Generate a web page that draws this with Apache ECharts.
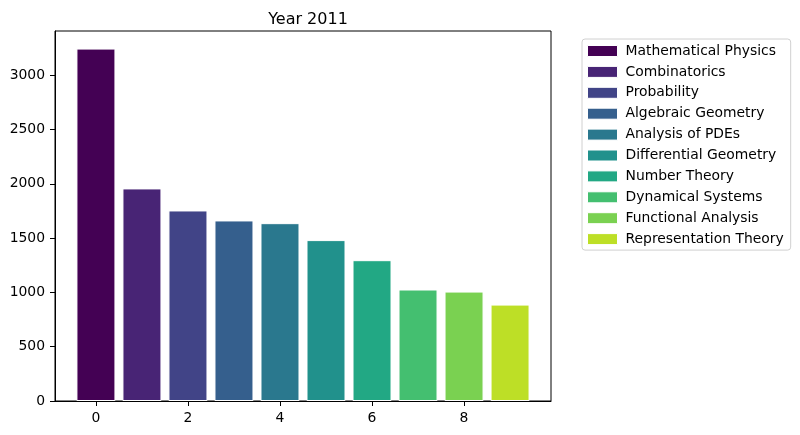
<!DOCTYPE html>
<html>
<head>
<meta charset="utf-8">
<script src="https://cdn.jsdelivr.net/npm/echarts@6/dist/echarts.min.js"></script>
<style>html,body{margin:0;padding:0;background:#fff}#c{width:800px;height:435px}</style>
</head>
<body>
<div id="c"></div>
<script>
const categories = ["Mathematical Physics","Combinatorics","Probability","Algebraic Geometry","Analysis of PDEs","Differential Geometry","Number Theory","Dynamical Systems","Functional Analysis","Representation Theory"];
const positions = [0,1,2,3,4,5,6,7,8,9];
const values = [3246,1958,1755,1663,1638,1482,1297,1027,1008,888];
const colors = ["#440154","#482475","#414487","#355f8d","#2a788e","#21918c","#22a884","#44bf70","#7ad151","#bddf26"];
const xTicks = [0,2,4,6,8];
const yTicks = [0,500,1000,1500,2000,2500,3000];
const titleText = "Year 2011";

const FONT = "DejaVu Sans";
const chart = echarts.init(document.getElementById('c'), null, {renderer:'canvas'});
const series = categories.map((name,i)=>({
  name: name,
  type: 'bar',
  data: [[positions[i], values[i]]],
  barWidth: 39,
  barGap: '-100%',
  itemStyle: {color: colors[i], borderColor: '#ffffff', borderWidth: 1},
  emphasis: {disabled: true},
  animation: false
}));
chart.setOption({
  animation: false,
  title: {
    text: titleText, left: 303, top: 7, textAlign: 'center',
    textStyle: {fontFamily: FONT, fontSize: 16, fontWeight: 'normal', color: '#000'}
  },
  grid: {left: 55, right: 249, top: 31, bottom: 34, show: true, borderColor: '#000', borderWidth: 1, backgroundColor: 'transparent'},
  legend: {
    orient: 'vertical', left: 582, top: 39,
    padding: [5, 7, 4, 5],
    itemWidth: 30, itemHeight: 11, itemGap: 6.9,
    backgroundColor: '#fff', borderColor: '#d0d0d0', borderWidth: 1, borderRadius: 3,
    textStyle: {fontFamily: FONT, fontSize: 13.9, color: '#000', lineHeight: 14, padding: [0,0,0,3]},
    icon: 'rect',
    itemStyle: {borderColor: '#ffffff', borderWidth: 1},
    selectedMode: false,
    data: categories
  },
  xAxis: {
    type: 'value', min: -0.89, max: 9.89,
    splitLine: {show: false},
    axisLine: {show: true, onZero: false, lineStyle: {color: '#000', width: 1}},
    axisTick: {show: true, length: 5, lineStyle: {color: '#000'}, customValues: xTicks},
    axisLabel: {fontFamily: FONT, fontSize: 13.9, color: '#000', margin: 10, customValues: xTicks, formatter: v => String(v)}
  },
  yAxis: {
    type: 'value', min: 0, max: 3408,
    splitLine: {show: false},
    axisLine: {show: true, onZero: false, lineStyle: {color: '#000', width: 1}},
    axisTick: {show: true, length: 5, lineStyle: {color: '#000'}, customValues: yTicks},
    axisLabel: {fontFamily: FONT, fontSize: 13.9, color: '#000', margin: 10, customValues: yTicks, formatter: v => String(v)}
  },
  series: series
});
</script>
</body>
</html>
